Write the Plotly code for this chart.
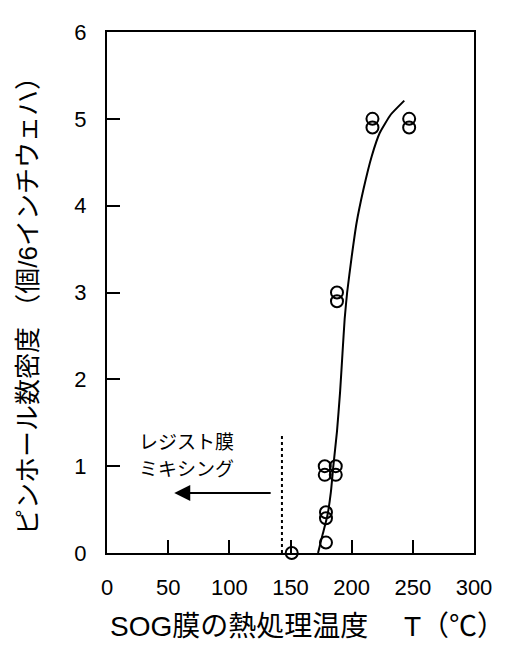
import plotly.graph_objects as go

# measured points (open circles)
temp_pts = [151, 179, 179, 179, 178, 178, 187, 187, 188, 188, 217, 217, 247, 247]
density_pts = [0.0, 0.12, 0.40, 0.47, 1.0, 0.9, 1.0, 0.9, 3.0, 2.9, 5.0, 4.9, 5.0, 4.9]

# hand-drawn trend curve
curve_t = [172.5, 176, 180, 183, 185, 188, 190.5, 192.5, 194.3, 196.3, 200, 204, 209.5, 216.4, 223, 232, 243]
curve_d = [0.0, 0.2, 0.42, 0.7, 1.0, 1.4, 1.85, 2.3, 2.7, 3.0, 3.41, 3.8, 4.18, 4.57, 4.84, 5.05, 5.21]

x_ticks = [0, 50, 100, 150, 200, 250, 300]
y_ticks = [0, 1, 2, 3, 4, 5, 6]

mixing_limit_t = 143
mixing_line_top = 1.38
arrow_y = 0.69
arrow_from_t = 135
arrow_to_t = 55

FONT = "Liberation Sans, Arial, Noto Sans CJK JP, sans-serif"
JFONT = "Noto Sans CJK JP, Liberation Sans, sans-serif"

fig = go.Figure()
fig.add_trace(go.Scatter(x=curve_t, y=curve_d, mode="lines",
                         line=dict(color="black", width=2, shape="spline", smoothing=0.4),
                         hoverinfo="skip"))
fig.add_trace(go.Scatter(x=temp_pts, y=density_pts, mode="markers",
                         marker=dict(symbol="circle-open", size=12, color="black",
                                     line=dict(width=2, color="black")),
                         cliponaxis=False))

fig.add_shape(type="line", x0=mixing_limit_t, x1=mixing_limit_t, y0=0, y1=mixing_line_top,
              xref="x", yref="y", line=dict(color="black", width=2, dash="dot"))

fig.add_annotation(x=arrow_to_t, y=arrow_y, ax=arrow_from_t, ay=arrow_y,
                   xref="x", yref="y", axref="x", ayref="y", text="",
                   showarrow=True, arrowhead=2, arrowsize=1.6, arrowwidth=2, arrowcolor="black")

fig.add_annotation(x=24.5, y=1.30, xref="x", yref="y", text="レジスト膜", showarrow=False,
                   xanchor="left", yanchor="middle", font=dict(family=JFONT, size=19, color="black"))
fig.add_annotation(x=24.5, y=0.99, xref="x", yref="y", text="ミキシング", showarrow=False,
                   xanchor="left", yanchor="middle", font=dict(family=JFONT, size=19, color="black"))

fig.add_annotation(x=0.545, y=-0.142, xref="paper", yref="paper",
                   text="SOG膜の熱処理温度　 T（℃）", showarrow=False,
                   xanchor="center", yanchor="middle", font=dict(family=FONT, size=28, color="black"))
fig.add_annotation(x=-0.215, y=0.486, xref="paper", yref="paper", textangle=-90,
                   text="ピンホール数密度 （個/6インチウェハ）", showarrow=False,
                   xanchor="center", yanchor="middle", font=dict(family=FONT, size=26, color="black"))

axis_common = dict(showgrid=False, zeroline=False, showline=True, linecolor="black", linewidth=2,
                   mirror=True, ticks="inside", ticklen=13, tickwidth=2, tickcolor="black",
                   tickfont=dict(family=FONT, size=22, color="black"))
fig.update_xaxes(range=[0, 300], tickvals=x_ticks, ticktext=[str(v) for v in x_ticks],
                 ticklabelstandoff=14, **axis_common)
fig.update_yaxes(range=[0, 6], tickvals=y_ticks, ticktext=[str(v) for v in y_ticks],
                 ticklabelstandoff=14, **axis_common)

# page body adds an 8px margin, so the figure is sized/offset to compensate
fig.update_layout(width=513, height=651, margin=dict(l=99, r=47, t=24, b=106),
                  paper_bgcolor="white", plot_bgcolor="white", showlegend=False)

fig.write_html("out.html")
